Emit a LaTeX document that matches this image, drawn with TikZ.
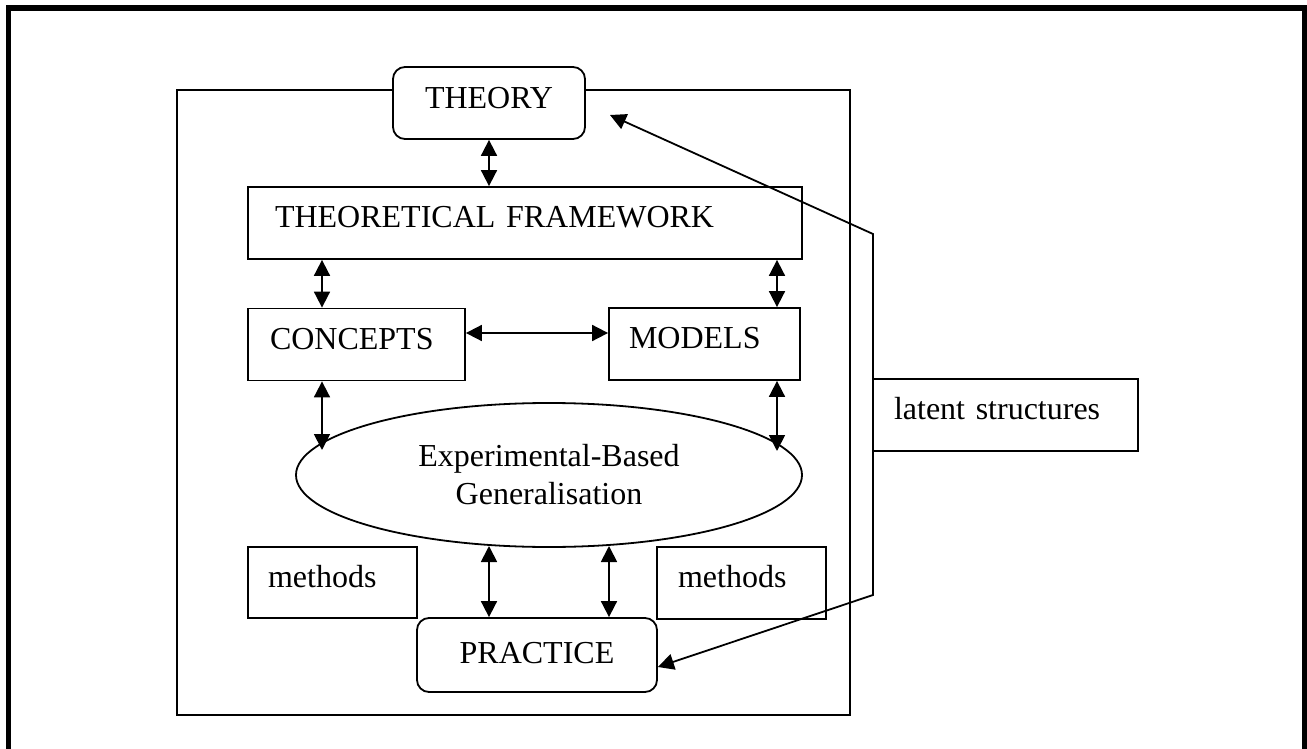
\documentclass[tikz,border=0pt]{standalone}
\usepackage{fontspec}
\setmainfont{Liberation Serif}
\usetikzlibrary{arrows.meta,shapes.geometric}
\begin{document}
\begin{tikzpicture}[x=1pt,y=-1pt,
  txt/.style={font=\fontsize{32}{38}\selectfont},
  box/.style={draw, line width=1.8pt, fill=white, rectangle, inner ysep=0pt,
    minimum height=72pt, text height=22pt, text depth=13pt, txt},
  lbox/.style={box, align=left, inner xsep=#1},
  rbox/.style={box, rounded corners=12pt, align=center, inner xsep=0pt},
  dbl/.style={line width=1.8pt, {Triangle[length=16pt,width=16pt]}-{Triangle[length=16pt,width=16pt]}},
  conn/.style={line width=1.8pt, {Triangle[length=16pt,width=16pt]}-{Triangle[length=16pt,width=16pt]}},
  frame/.style={draw, line width=1.8pt}
]
\useasboundingbox (0,0) rectangle (1307,749);
\clip (0,0) rectangle (1307,749);
% outer border
\draw[line width=5.5pt] (8.5,8) rectangle (1304.5,780);
% inner frame
\draw[frame] (177,90) rectangle (850,715);

% nodes
\node[rbox, minimum width=192pt, text depth=10pt] (theory) at (489,103) {THEORY};
\node[lbox=27pt, text width=500pt] (tf) at (525,223) {THEORETICAL FRAMEWORK};
\node[lbox=22pt, text width=173pt] (concepts) at (356.5,344.5) {CONCEPTS};
\node[lbox=20pt, text width=151pt] (models) at (704.5,344) {MODELS};
\node[draw, ellipse, line width=1.8pt, minimum width=506pt, minimum height=144pt,
  inner sep=0pt, align=center, txt] (ell) at (549,475) {Experimental-Based\\Generalisation};
\node[lbox=20pt, text width=129pt, minimum height=71pt] (methL) at (332.5,582.5) {methods};
\node[lbox=21pt, text width=127pt] (methR) at (741.5,583) {methods};
\node[rbox, minimum width=240pt, minimum height=74pt, text depth=6pt] (practice) at (537,655) {PRACTICE};
\node[lbox=21pt, text width=223pt] (latent) at (1005.5,415) {latent structures};

% helper coordinates
\coordinate (xa) at (322,0);
\coordinate (xb) at (777,0);
\coordinate (ya) at (0,333);
\coordinate (eL) at (322,450);
\coordinate (eR) at (777,451);
\coordinate (eB1) at (489,546);
\coordinate (eB2) at (609,546);
\coordinate (tp) at (610,115);
\coordinate (b1) at (873,234);
\coordinate (b2) at (873,595);

% connectors
\draw[dbl] (theory.south) -- (tf.north -| theory.south);
\draw[dbl] (tf.south -| xa) -- (concepts.north -| xa);
\draw[dbl] (tf.south -| xb) -- (models.north -| xb);
\draw[dbl] (concepts.east |- ya) -- (models.west |- ya);
\draw[dbl] (concepts.south -| xa) -- (eL);
\draw[dbl] (models.south -| xb) -- (eR);
\draw[dbl] (eB1) -- (practice.north -| eB1);
\draw[dbl] (eB2) -- (practice.north -| eB2);
\draw[conn, line join=miter] (tp) -- (b1) -- (b2) -- ([yshift=-12pt]practice.east);
\end{tikzpicture}
\end{document}
